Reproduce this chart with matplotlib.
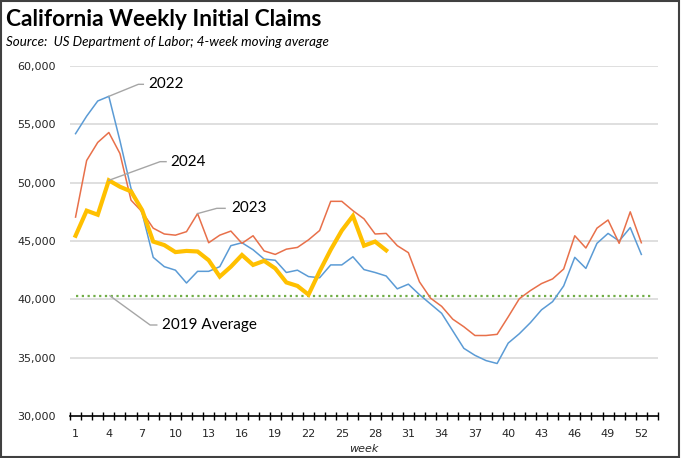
import matplotlib.pyplot as plt
from matplotlib.patches import Rectangle

# weekly initial claims, 4-week moving average
weeks = list(range(1, 54))

claims_2022 = [54200, 55700, 57000, 57400, 53600, 49500, 47400, 43600, 42800, 42500,
               41400, 42400, 42400, 42800, 44600, 44850, 44250, 43450, 43350, 42300,
               42500, 41950, 41850, 42950, 42950, 43650, 42550, 42300, 42000, 40900,
               41300, 40400, 39600, 38800, 37300, 35800, 35200, 34750, 34500, 36250,
               37050, 38000, 39100, 39800, 41150, 43600, 42650, 44800, 45650, 45000,
               46150, 43850]

claims_2023 = [47050, 51900, 53450, 54300, 52500, 48500, 47500, 46100, 45600, 45500,
               45800, 47350, 44850, 45500, 45850, 44800, 45450, 44150, 43850, 44300,
               44450, 45100, 45900, 48400, 48400, 47600, 46900, 45600, 45650, 44600,
               44000, 41500, 40100, 39400, 38300, 37650, 36900, 36900, 37000, 38500,
               40050, 40750, 41350, 41750, 42600, 45450, 44400, 46100, 46800, 44800,
               47500, 44850]

claims_2024 = [45450, 47600, 47250, 50200, 49650, 49250, 47650, 44950, 44650, 44050,
               44150, 44100, 43350, 41950, 42800, 43800, 42950, 43300, 42650, 41450,
               41150, 40400, 42400, 44250, 45900, 47150, 44600, 44950, 44200]

avg_2019 = 40300

fig = plt.figure(figsize=(6.81, 4.58), dpi=100)
ax = fig.add_axes([0.1028, 0.0917, 0.8634, 0.7642])

ax.plot(weeks, [avg_2019] * len(weeks), color="#70AD47", lw=1.6,
        linestyle=(0, (1, 1.6)), zorder=2)
ax.plot(weeks[:len(claims_2022)], claims_2022, color="#5B9BD5", lw=1.1, zorder=3)
ax.plot(weeks[:len(claims_2023)], claims_2023, color="#E8704A", lw=1.1, zorder=4)
ax.plot(weeks[:len(claims_2024)], claims_2024, color="#FFC000", lw=3.0,
        solid_joinstyle="miter", zorder=5)

ax.set_xlim(0.5, 53.5)
ax.set_ylim(30000, 60000)

yt = list(range(30000, 60001, 5000))
ax.set_yticks(yt)
ax.set_yticklabels([f"{v:,}" for v in yt], fontsize=8, color="#262626")
for v in yt[1:]:
    ax.axhline(v, color="#D9D9D9", lw=1.2, zorder=1)

ax.set_xticks([w - 0.5 for w in weeks] + [53.5])
ax.set_xticklabels([])
ax.set_xticks(weeks[::3], minor=True)
ax.set_xticklabels([str(w) for w in weeks[::3]], minor=True, fontsize=8, color="#262626")
ax.tick_params(axis="x", which="major", direction="inout", length=6, width=1, color="black")
ax.tick_params(axis="x", which="minor", length=0, pad=9)
ax.tick_params(axis="y", length=0, pad=10)
ax.set_xlabel("week", fontsize=8, style="italic", labelpad=4, color="#262626")

for s in ["top", "right", "left"]:
    ax.spines[s].set_visible(False)
ax.spines["bottom"].set_color("black")
ax.spines["bottom"].set_linewidth(1.2)
ax.spines["bottom"].set_zorder(6)

# leader lines and series labels
lead = "#A6A6A6"
tfont = dict(fontsize=11, family="Lato", va="center", color="black")

def label(x0, y0, xe, ye, x1, xt, txt):
    ax.plot([x0, xe, x1], [y0, ye, ye], color=lead, lw=1, zorder=6, clip_on=False)
    ax.text(xt, ye, txt, **tfont)

label(weeks[3], claims_2022[3], 6.66, 58430, 7.11, 7.56, "2022")
label(weeks[3], claims_2024[3], 8.62, 51800, 9.16, 9.52, "2024")
label(weeks[11], claims_2023[11], 13.73, 47800, 14.48, 15.0, "2023")
label(4.1, avg_2019, 7.72, 37800, 8.32, 8.77, "2019 Average")

fig.text(0.009, 0.957, "California Weekly Initial Claims", fontsize=16.4,
         fontweight="bold", family="Lato", va="center")
fig.text(0.009, 0.908, "Source:  US Department of Labor; 4-week moving average",
         fontsize=9.6, style="italic", family="Lato", va="center")

fig.patches.append(Rectangle((0.001, 0.002), 0.996, 0.996, transform=fig.transFigure,
                             fill=False, edgecolor="#404040", lw=1.5))

fig.savefig("out.png", dpi=100)
